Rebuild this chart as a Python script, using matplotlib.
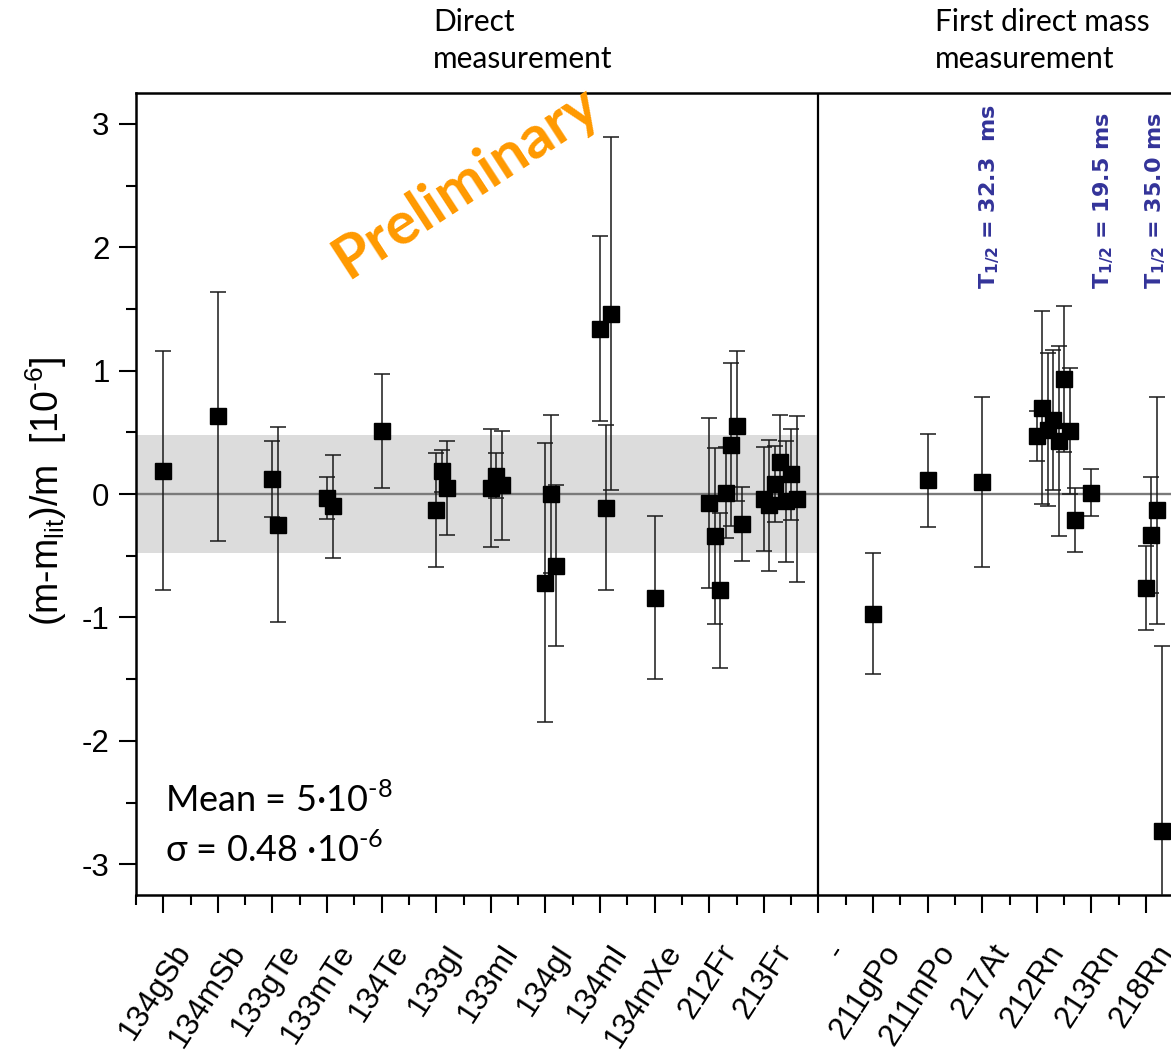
# Wykres odchyleń zmierzonych mas od wartości literaturowych (wyniki wstępne)

import numpy as np
import matplotlib.pyplot as plt

plt.rcParams['axes.unicode_minus'] = False

# Etykiety osi X (kolejne nuklidy)
etykiety = ["134gSb", "134mSb", "133gTe", "133mTe", "134Te", "133gI", "133mI",
            "134gI", "134mI", "134mXe", "212Fr", "213Fr", "-", "211gPo",
            "211mPo", "217At", "212Rn", "213Rn", "218Rn"]

# Nuklid, do którego należy dany punkt pomiarowy
nuklid_punktu = (["134gSb", "134mSb"] + ["133gTe"] * 2 + ["133mTe"] * 2 + ["134Te"]
                 + ["133gI"] * 3 + ["133mI"] * 3 + ["134gI"] * 3 + ["134mI"] * 3
                 + ["134mXe"] + ["212Fr"] * 7 + ["213Fr"] * 7
                 + ["211gPo", "211mPo", "217At"] + ["212Rn"] * 8 + ["213Rn"]
                 + ["218Rn"] * 4)

# (m-m_lit)/m w jednostkach 10^-6
wartosci = [0.19, 0.63, 0.12, -0.25, -0.03, -0.10, 0.51,
            -0.13, 0.19, 0.05, 0.05, 0.15, 0.07, -0.72, 0.00, -0.58,
            1.34, -0.11, 1.46, -0.84,
            -0.07, -0.34, -0.78, 0.01, 0.40, 0.55, -0.24,
            -0.04, -0.09, 0.08, 0.26, -0.06, 0.16, -0.04,
            -0.97, 0.11, 0.10,
            0.47, 0.70, 0.52, 0.60, 0.43, 0.93, 0.51, -0.21,
            0.01, -0.76, -0.33, -0.13, -2.73]

# Niepewności pomiarów
niepewnosci = [0.97, 1.01, 0.31, 0.79, 0.17, 0.42, 0.46,
               0.46, 0.17, 0.38, 0.48, 0.18, 0.44, 1.13, 0.64, 0.65,
               0.75, 0.67, 1.43, 0.66,
               0.69, 0.71, 0.63, 0.37, 0.66, 0.61, 0.30,
               0.42, 0.53, 0.31, 0.38, 0.49, 0.37, 0.67,
               0.49, 0.38, 0.69,
               0.20, 0.78, 0.62, 0.57, 0.77, 0.59, 0.51, 0.26,
               0.19, 0.34, 0.47, 0.92, 1.5]

# Statystyka (pas szary = +/- sigma)
srednia = 0.05
sigma = 0.48

# Czasy połowicznego rozpadu (opisy nad punktami)
opisy_t12 = ["32.3  ms", "19.5 ms", "35.0 ms"]
pozycje_t12 = [16.14, 18.23, 19.18]

# Pozycje X: kolejne punkty tego samego nuklidu lekko przesunięte
pozycje_x = []
licznik = {}
for n in nuklid_punktu:
    k = licznik.get(n, 0)
    pozycje_x.append(etykiety.index(n) + 1 + 0.1 * k)
    licznik[n] = k + 1

fig = plt.figure(figsize=(11.71, 10.53), dpi=100)
ax = fig.add_axes([0.1161, 0.150, 0.9092, 0.7617])

ax.set_xlim(0.5, 20.0)
ax.set_ylim(-3.25, 3.25)

# Pas +/- sigma i linia zera
ax.fill_between([0.5, 13], -sigma, sigma, color='#dcdcdc', lw=0, zorder=0)
ax.axhline(0, color='#7a7a7a', lw=1.7, zorder=1)
ax.axvline(13, color='black', lw=1.6, zorder=2)

ax.errorbar(pozycje_x, wartosci, yerr=niepewnosci, fmt='s', color='black',
            ms=12, ecolor='#1a1a1a', elinewidth=1.1, capsize=6, capthick=1.1,
            zorder=3)

# Osie i podziałki
for s in ax.spines.values():
    s.set_linewidth(1.8)
ax.set_xticks(range(1, 20))
ax.set_xticks(np.arange(0.5, 20, 1), minor=True)
ax.set_xticklabels([])
ax.set_yticks(range(-3, 4))
ax.set_yticks(np.arange(-3, 3.01, 0.5), minor=True)
ax.tick_params(axis='both', which='major', direction='out', length=13, width=1.5)
ax.tick_params(axis='both', which='minor', direction='out', length=7, width=1.5)
ax.tick_params(axis='y', which='major', length=12, labelsize=22.5, pad=7)
for t in ax.get_yticklabels():
    t.set_family('Liberation Sans')

# Etykiety nuklidów (obrócone)
for i, e in enumerate(etykiety, 1):
    ax.annotate(e, xy=(i, 0), xycoords=ax.get_xaxis_transform(),
                xytext=(21 * 0.72, -52 * 0.72), textcoords='offset points',
                rotation=57, rotation_mode='anchor', ha='right', va='center',
                fontsize=22.5, family='Liberation Sans', annotation_clip=False)

# Opis osi Y (łącznik U+2010 zamiast długiego minusa)
fig.text(46.5 / 1171, 1 - 491 / 1053,
         "(m-m$_{\\mathregular{lit}}$)/m  [10$^{\\mathregular{\u20106}}$]",
         rotation=90, ha='center', va='center', fontsize=27,
         family='Liberation Sans')

# Opisy tekstowe nad wykresem
czcionka = ['Lato', 'DejaVu Sans']
for x0, linie in [(433, ["Direct", "measurement"]),
                  (935, ["First direct mass", "measurement"])]:
    fig.text(x0 / 1171, 1 - 30.7 / 1053, linie[0], ha='left', va='baseline',
             fontsize=21.5, family=czcionka)
    fig.text(x0 / 1171, 1 - 68.3 / 1053, linie[1], ha='left', va='baseline',
             fontsize=21.5, family=czcionka)

fig.text(466 / 1171, 1 - 182 / 1053, "Preliminary", rotation=33, ha='center',
         va='center', fontsize=43, fontweight='bold', color='#ff9900',
         family=czcionka, zorder=5)

fig.text(165 / 1171, 1 - 812 / 1053,
         "Mean = %d·10$^{\\mathregular{\u20108}}$" % round(srednia * 100),
         ha='left', va='baseline', fontsize=26, family=czcionka)
fig.text(165 / 1171, 1 - 862 / 1053,
         "σ = %.2f ·10$^{\\mathregular{\u20106}}$" % sigma,
         ha='left', va='baseline', fontsize=26, family=czcionka)

for x, opis in zip(pozycje_t12, opisy_t12):
    ax.text(x, 1.66, "T$_{\\mathregular{1/2}}$ = " + opis, rotation=90,
            ha='center', va='bottom', fontsize=16, fontweight='bold',
            color='#333399', family='DejaVu Sans')

fig.savefig("out.png", dpi=100)
